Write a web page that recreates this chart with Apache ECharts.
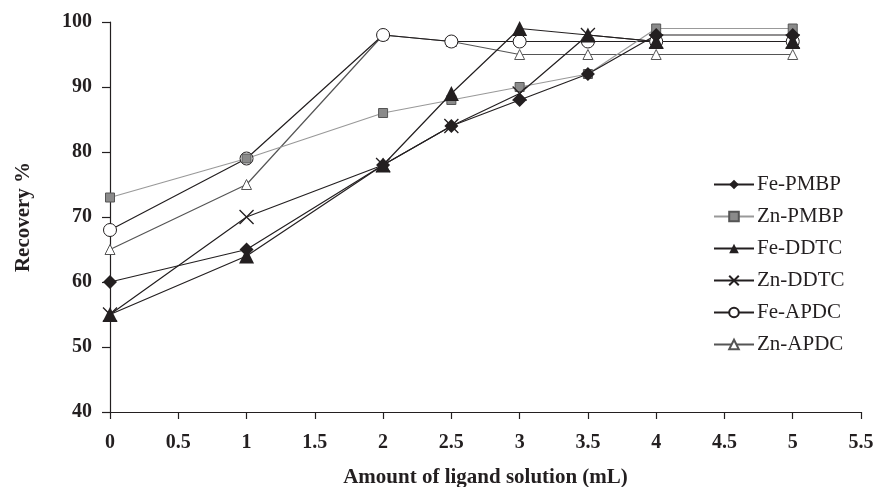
<!DOCTYPE html>
<html>
<head>
<meta charset="utf-8">
<script src="https://cdn.jsdelivr.net/npm/echarts@6/dist/echarts.min.js"></script>
<style>html,body{margin:0;padding:0;background:#fff}#c{width:876px;height:487px}</style>
</head>
<body>
<div id="c"></div>
<script>
var xValues = [0, 1, 2, 2.5, 3, 3.5, 4, 5];
var seriesNames = ['Fe-PMBP', 'Zn-PMBP', 'Fe-DDTC', 'Zn-DDTC', 'Fe-APDC', 'Zn-APDC'];
var fePMBP = [60, 65, 78, 84, 88, 92, 98, 98];
var znPMBP = [73, 79, 86, 88, 90, 92, 99, 99];
var feDDTC = [55, 64, 78, 89, 99, 98, 97, 97];
var znDDTC = [55, 70, 78, 84, 89, 98, 97, 97];
var feAPDC = [68, 79, 98, 97, 97, 97, 97, 97];
var znAPDC = [65, 75, 98, 97, 95, 95, 95, 95];
var xAxisTitle = 'Amount of ligand solution (mL)';
var yAxisTitle = 'Recovery %';

function pairs(vals) { return xValues.map(function (x, i) { return [x, vals[i]]; }); }

var font = 'Liberation Serif, Times New Roman, serif';
var chart = echarts.init(document.getElementById('c'), null, {renderer: 'canvas'});

function mk(name, vals, symbol, size, fill, border, lineColor, bw) {
  return {
    name: name, type: 'line', data: pairs(vals),
    symbol: symbol, symbolSize: size, showAllSymbol: true,
    lineStyle: {color: lineColor, width: 1.2},
    itemStyle: {color: fill, borderColor: border, borderWidth: bw},
    emphasis: {disabled: true},
    animation: false
  };
}

var option = {
  backgroundColor: '#fff',
  animation: false,
  grid: {left: 110, right: 15, top: 22, bottom: 75, containLabel: false, outerBoundsMode: 'none'},
  xAxis: {
    type: 'value', min: 0, max: 5.5, interval: 0.5,
    name: xAxisTitle, nameLocation: 'middle', nameGap: 55,
    nameTextStyle: {fontFamily: font, fontWeight: 'bold', fontSize: 21, color: '#231f20'},
    axisLine: {show: true, lineStyle: {color: '#231f20', width: 1.2}},
    axisTick: {show: true, inside: false, length: 7, lineStyle: {color: '#231f20', width: 1.2}},
    axisLabel: {fontFamily: font, fontWeight: 'bold', fontSize: 20, color: '#231f20', margin: 21},
    splitLine: {show: false}
  },
  yAxis: {
    type: 'value', min: 40, max: 100, interval: 10,
    name: yAxisTitle, nameLocation: 'middle', nameGap: 76, nameRotate: 90,
    nameTextStyle: {fontFamily: font, fontWeight: 'bold', fontSize: 21, color: '#231f20'},
    axisLine: {show: true, lineStyle: {color: '#231f20', width: 1.2}},
    axisTick: {show: true, inside: false, length: 8, lineStyle: {color: '#231f20', width: 1.2}},
    axisLabel: {fontFamily: font, fontWeight: 'bold', fontSize: 20, color: '#231f20', margin: 18},
    splitLine: {show: false}
  },
  legend: {
    orient: 'vertical', left: 713, top: 174, padding: 0,
    itemWidth: 40, itemHeight: 12, itemGap: 11,
    data: seriesNames,
    textStyle: {fontFamily: font, fontSize: 21, color: '#231f20', padding: [0, 0, 0, -2]}
  },
  series: [
    mk(seriesNames[5], znAPDC, 'triangle', 10, '#fff', '#555', '#555', 1),
    mk(seriesNames[4], feAPDC, 'circle', 13, '#fff', '#231f20', '#231f20', 1),
    mk(seriesNames[1], znPMBP, 'rect', 9, '#8a8a8a', '#555', '#999', 1),
    mk(seriesNames[3], znDDTC, 'path://M0,0L10,10M10,0L0,10', 14, 'none', '#231f20', '#231f20', 1.3),
    mk(seriesNames[2], feDDTC, 'triangle', 15, '#231f20', '#231f20', '#231f20', 0),
    mk(seriesNames[0], fePMBP, 'diamond', 14, '#231f20', '#231f20', '#231f20', 0)
  ]
};
chart.setOption(option);
</script>
</body>
</html>
